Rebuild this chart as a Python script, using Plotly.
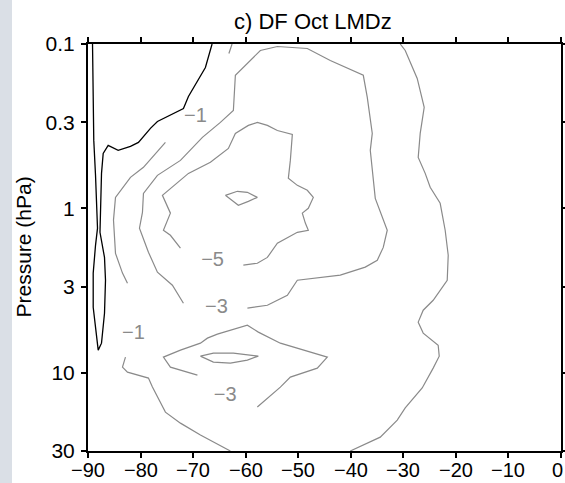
import plotly.graph_objects as go

# Latitude (deg) / pressure (hPa) vertices of each contour of DF (m/s/day)

# zero contour: thin tongue along the pole that opens out near the top
zero_lat = [-89.14, -89.05, -88.90, -88.57, -88.29, -88.19, -88.57, -89.01, -89.01, -88.38,
            -88.06, -87.43, -86.86, -86.67, -86.86, -87.72, -87.62, -87.43, -87.11, -86.16,
            -84.26, -81.92, -80.40, -79.45, -78.12, -76.79, -74.32, -71.84, -70.89, -69.94,
            -67.66, -66.39]
zero_p = [0.1, 0.221, 0.386, 0.63, 0.986, 1.32, 1.68, 2.48, 4.0, 5.75,
          7.3, 6.62, 4.35, 2.74, 1.99, 1.40, 0.986, 0.613, 0.463, 0.414,
          0.444, 0.42, 0.397, 0.365, 0.326, 0.296, 0.272, 0.247, 0.2085, 0.184,
          0.139, 0.1]

# -1 contour, poleward branch (three pieces between the inline labels)
m1_top_lat = [-62.59, -63.19]
m1_top_p = [0.1, 0.1142]
m1_mid_lat = [-75.27, -77.74, -79.45, -81.92, -84.77, -85.15, -84.77, -83.44, -82.49]
m1_mid_p = [0.397, 0.49, 0.563, 0.648, 0.858, 1.18, 1.88, 2.48, 2.86]
m1_low_lat = [-82.87, -83.44, -82.49, -78.50, -77.74, -75.27, -72.41, -68.61, -62.91]
m1_low_p = [8.05, 9.26, 9.93, 10.8, 12.25, 17.4, 20.3, 24.0, 30.0]

# -1 contour, equatorward branch
m1_eq_lat = [-30.59, -29.64, -27.36, -26.03, -26.41, -26.79, -27.17, -25.84, -24.89, -22.99,
             -22.04, -21.46, -21.65, -24.32, -26.22, -27.17, -26.22, -23.37, -23.17, -24.32,
             -26.41, -29.64, -31.16, -34.39, -40.10]
m1_eq_p = [0.1, 0.1095, 0.162, 0.243, 0.292, 0.35, 0.49, 0.613, 0.745, 0.932,
           1.36, 1.93, 2.74, 3.63, 4.17, 4.93, 5.75, 6.81, 7.94, 9.39,
           12.4, 16.4, 19.45, 24.7, 30.0]

# -3 contour, upper-stratosphere cell
m3_up_lat = [-71.84, -72.41, -73.94, -76.79, -78.50, -80.21, -79.64, -79.45, -76.79, -72.41,
             -68.23, -64.81, -62.34, -61.96, -60.63, -57.21, -53.97, -50.17, -48.27, -43.90,
             -37.62, -36.86, -35.91, -36.29, -35.72, -35.34, -33.06, -33.82, -34.96, -37.24,
             -42.00, -45.23, -50.17, -52.07, -55.87, -59.67]
m3_up_p = [3.78, 3.52, 2.94, 2.45, 1.85, 1.32, 1.06, 0.811, 0.63, 0.511,
           0.37, 0.30, 0.254, 0.155, 0.141, 0.1095, 0.1036, 0.105, 0.1065, 0.126,
           0.155, 0.2115, 0.35, 0.444, 0.648, 0.87, 1.36, 1.73, 2.07, 2.28,
           2.55, 2.63, 2.74, 3.38, 3.89, 4.05]

# -5 contour, upper cell
m5_up_lat = [-72.41, -74.32, -75.65, -74.32, -75.84, -72.98, -70.89, -66.71, -63.29, -61.96,
             -59.49, -57.78, -55.87, -53.97, -51.12, -51.50, -51.88, -50.17, -48.27, -47.13,
             -48.08, -49.22, -48.65, -48.08, -50.17, -53.97, -55.87, -57.78, -60.44]
m5_up_p = [1.75, 1.46, 1.36, 1.07, 0.834, 0.695, 0.613, 0.525, 0.432, 0.35,
           0.313, 0.30, 0.313, 0.336, 0.355, 0.511, 0.657, 0.725, 0.777, 0.858,
           1.0, 1.07, 1.23, 1.36, 1.40, 1.63, 1.99, 2.16, 2.22]

# -7 contour, small core near 1 hPa
m7_lat = [-63.86, -61.58, -59.68, -57.78, -59.49, -61.39, -63.86]
m7_p = [0.834, 0.788, 0.799, 0.858, 0.907, 0.959, 0.834]

# -3 contour, lower cell
m3_lo_lat = [-69.18, -74.32, -75.65, -72.41, -68.61, -67.28, -65.38, -59.68, -57.59, -53.40,
             -44.47, -46.37, -51.50, -53.40, -57.78]
m3_lo_p = [10.36, 9.26, 8.05, 7.30, 6.62, 6.17, 5.83, 5.14, 5.67, 6.62,
           8.05, 9.39, 10.65, 12.25, 16.2]

# -5 contour, lower lens
m5_lo_lat = [-68.61, -66.14, -62.34, -57.59, -59.68, -62.91, -66.14, -68.61]
m5_lo_p = [7.94, 7.61, 7.61, 7.94, 8.39, 8.75, 8.63, 7.94]

contours = [
    (0, zero_lat, zero_p),
    (-1, m1_top_lat, m1_top_p),
    (-1, m1_mid_lat, m1_mid_p),
    (-1, m1_low_lat, m1_low_p),
    (-1, m1_eq_lat, m1_eq_p),
    (-3, m3_up_lat, m3_up_p),
    (-5, m5_up_lat, m5_up_p),
    (-7, m7_lat, m7_p),
    (-3, m3_lo_lat, m3_lo_p),
    (-5, m5_lo_lat, m5_lo_p),
]

# inline contour labels
label_level = [-1, -1, -5, -3, -3]
label_lat = [-69.56, -81.35, -66.3, -65.57, -63.9]
label_p = [0.28, 5.8, 2.08, 4.03, 13.9]

x_ticks = [-90, -80, -70, -60, -50, -40, -30, -20, -10, 0]
y_ticks = [0.1, 0.3, 1, 3, 10, 30]


def fmt(v):
    s = f"{abs(v):g}"
    return ("\u2212" + s) if v < 0 else s


GRAY = "#8a8a8a"
FONT = "Liberation Sans, Arial, sans-serif"

fig = go.Figure()
for level, lat, p in contours:
    fig.add_trace(go.Scatter(
        x=lat, y=p, mode="lines",
        line=dict(color="black" if level == 0 else GRAY, width=1.3 if level == 0 else 1.2),
        hoverinfo="skip", showlegend=False,
    ))

fig.add_trace(go.Scatter(
    x=label_lat, y=label_p, mode="text",
    text=[fmt(v) for v in label_level],
    textposition="middle center",
    textfont=dict(family=FONT, size=20, color=GRAY),
    hoverinfo="skip", showlegend=False,
))

axis_common = dict(
    showline=True, linecolor="black", linewidth=2, mirror="ticks",
    ticks="outside", ticklen=5, tickwidth=1.5, tickcolor="black",
    showgrid=False, zeroline=False, automargin=False,
    tickfont=dict(family=FONT, size=21, color="black"),
)

# x tick labels are placed as annotations below the axis
fig.update_xaxes(
    range=[-90, 0], tickmode="array", tickvals=x_ticks,
    showticklabels=False, **axis_common,
)
fig.update_yaxes(
    type="log", range=[1.4771, -1], tickmode="array", tickvals=y_ticks,
    ticktext=[fmt(v) for v in y_ticks], ticklabelstandoff=2, **axis_common,
)

W, H = 565, 483
L, R, T, B = 88, 4, 44, 32
pw, ph = W - L - R, H - T - B

x_label_annots = [
    dict(text=fmt(v), x=v, xref="x", yref="paper", y=-(470 - (H - B)) / ph,
         xanchor="center", yanchor="middle", showarrow=False,
         xshift=-4 if v == 0 else 0,
         font=dict(family=FONT, size=20, color="black"))
    for v in x_ticks
]

fig.update_layout(
    width=W, height=H,
    margin=dict(l=L, r=R, t=T, b=B, pad=0, autoexpand=False),
    paper_bgcolor="white", plot_bgcolor="white",
    font=dict(family=FONT, color="black"),
    shapes=[dict(
        type="rect", xref="paper", yref="paper", layer="below",
        x0=-L / pw, x1=(12 - L) / pw, y0=-B / ph, y1=1 + T / ph,
        fillcolor="#dadfe6", line=dict(width=0),
    )],
    annotations=[
        dict(text="c) DF Oct LMDz", xref="paper", yref="paper",
             x=(313 - L) / pw, y=1 + (T - 21) / ph, xanchor="center", yanchor="middle",
             showarrow=False, font=dict(size=22, color="black")),
        dict(text="Pressure (hPa)", xref="paper", yref="paper",
             x=(23 - L) / pw, y=0.5, xanchor="center", yanchor="middle",
             textangle=-90, showarrow=False, font=dict(size=21, color="black")),
    ] + x_label_annots,
)

fig.write_html("out.html")
